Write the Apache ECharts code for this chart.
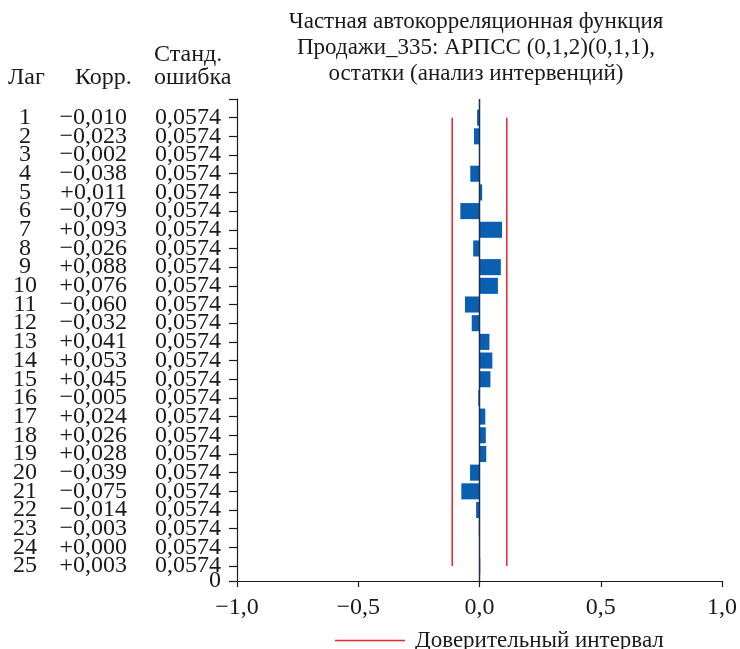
<!DOCTYPE html>
<html>
<head>
<meta charset="utf-8">
<script src="https://cdn.jsdelivr.net/npm/echarts@6/dist/echarts.min.js"></script>
<style>
  html, body { margin: 0; padding: 0; background: #fff; }
  #chart { width: 740px; height: 649px; }
</style>
</head>
<body>
<div id="chart"></div>
<script>
// Partial autocorrelation of residuals, lags 1..25
const lags = [1, 2, 3, 4, 5, 6, 7, 8, 9, 10, 11, 12, 13, 14, 15, 16, 17, 18, 19, 20, 21, 22, 23, 24, 25];
const corr = [-0.010, -0.023, -0.002, -0.038, 0.011, -0.079, 0.093, -0.026, 0.088, 0.076,
              -0.060, -0.032, 0.041, 0.053, 0.045, -0.005, 0.024, 0.026, 0.028, -0.039,
              -0.075, -0.014, -0.003, 0.000, 0.003];
const stdErr = [0.0574, 0.0574, 0.0574, 0.0574, 0.0574, 0.0574, 0.0574, 0.0574, 0.0574, 0.0574,
                0.0574, 0.0574, 0.0574, 0.0574, 0.0574, 0.0574, 0.0574, 0.0574, 0.0574, 0.0574,
                0.0574, 0.0574, 0.0574, 0.0574, 0.0574];
const confLimit = 0.1125;          // ± confidence bound
const xTicks = [-1.0, -0.5, 0.0, 0.5, 1.0];
const yBottom = 25.8;              // axis end below the last lag

const FONT = '"Liberation Serif", "DejaVu Serif", serif';
const MINUS = '\u2212';
const INK = '#1a1a1a';

function fmtComma(v, d) {
  return Math.abs(v).toFixed(d).replace('.', ',');
}
function fmtCorr(v) {
  return (v >= 0 ? '+' : MINUS) + fmtComma(v, 3);
}
function fmtX(v) {
  return (v < 0 ? MINUS : '') + fmtComma(v, 1);
}

const barData = lags.map((l, i) => [corr[i], l]);
const firstLag = lags[0], lastLag = lags[lags.length - 1];

// Plot grid geometry
const G_LEFT = 237, G_RIGHT = 15, G_TOP = 99, G_BOTTOM = 68, CH = 649;
const rowPx = (CH - G_TOP - G_BOTTOM) / yBottom;
// The table columns live in a taller twin grid with the same row scale, padded by
// two empty rows at each end so the tightly packed row labels are never thinned.
const PAD = 2;
const tableMin = -PAD, tableMax = yBottom + PAD;
const tableTop = G_TOP - PAD * rowPx;
const tableHeight = (tableMax - tableMin) * rowPx;

const tickValues = [0].concat(lags, [yBottom]);
const rowValues = [tableMin].concat(lags, [tableMax]);

const rowLabelStyle = { fontFamily: FONT, fontSize: 24, color: INK, showMinLabel: true, showMaxLabel: true };

function tableAxis(offset, align, margin, values, formatter) {
  return {
    gridIndex: 1, type: 'value', inverse: true, min: tableMin, max: tableMax,
    position: 'left', offset: offset,
    axisLine: { show: false, onZero: false }, axisTick: { show: false }, splitLine: { show: false },
    axisLabel: Object.assign({ customValues: values, margin: margin, align: align, formatter: formatter }, rowLabelStyle)
  };
}
const isLag = v => v >= firstLag - 1e-6 && v <= lastLag + 1e-6;
const idx = v => Math.round(v) - 1;

const chart = echarts.init(document.getElementById('chart'), null, { renderer: 'canvas' });

chart.setOption({
  animation: false,
  backgroundColor: '#ffffff',
  title: {
    text: 'Частная автокорреляционная функция\nПродажи_335: АРПСС (0,1,2)(0,1,1),\nостатки (анализ интервенций)',
    left: 471, top: 4, textAlign: 'center',
    textStyle: { fontFamily: FONT, fontSize: 23, fontWeight: 'normal', color: INK, lineHeight: 26 }
  },
  legend: {
    data: [{ name: 'Доверительный интервал', icon: 'rect' }],
    left: 330, top: 624,
    itemWidth: 70, itemHeight: 1.5,
    textStyle: { fontFamily: FONT, fontSize: 23, color: INK, padding: [0, 0, 0, 5] }
  },
  grid: [
    { left: G_LEFT, right: G_RIGHT, top: G_TOP, bottom: G_BOTTOM },
    { left: G_LEFT, right: G_RIGHT, top: tableTop, height: tableHeight }
  ],
  xAxis: [
    {
      gridIndex: 0, type: 'value', min: -1, max: 1, interval: 0.5, position: 'bottom',
      axisLine: { show: true, onZero: false, lineStyle: { color: INK, width: 1.2 } },
      axisTick: { show: true, length: 6, lineStyle: { color: INK, width: 1.2 } },
      splitLine: { show: false },
      axisLabel: {
        customValues: xTicks, margin: 15, showMinLabel: true, showMaxLabel: true,
        fontFamily: FONT, fontSize: 24, color: INK, formatter: fmtX
      }
    },
    { gridIndex: 1, type: 'value', min: -1, max: 1, show: false }
  ],
  yAxis: [
    {
      gridIndex: 0, type: 'value', inverse: true, min: 0, max: yBottom, position: 'left',
      axisLine: { show: true, onZero: false, lineStyle: { color: INK, width: 1.2 } },
      axisTick: { show: true, customValues: tickValues, length: 8, lineStyle: { color: INK, width: 1.2 } },
      splitLine: { show: false },
      axisLabel: { show: false }
    },
    // standard error column (and the axis end "0")
    tableAxis(0, 'right', 16, [tableMin].concat(lags, [yBottom, tableMax]),
      v => isLag(v) ? fmtComma(stdErr[idx(v)], 4) : (Math.abs(v - yBottom) < 1e-6 ? '0' : '')),
    // lag column
    tableAxis(212, 'center', 0, rowValues, v => isLag(v) ? String(lags[idx(v)]) : ''),
    // correlation column
    tableAxis(110, 'right', 0, rowValues, v => isLag(v) ? fmtCorr(corr[idx(v)]) : '')
  ],
  graphic: [
    { type: 'text', left: 8, top: 66, style: { text: 'Лаг', font: '24px ' + FONT, fill: INK } },
    { type: 'text', left: 75, top: 66, style: { text: 'Корр.', font: '24px ' + FONT, fill: INK } },
    { type: 'text', left: 154, top: 43, style: { text: 'Станд.\nошибка', font: '24px ' + FONT, fill: INK, align: 'center', lineHeight: 23 } }
  ],
  series: [
    {
      type: 'custom', name: 'ЧАКФ', xAxisIndex: 0, yAxisIndex: 0,
      data: barData,
      renderItem: function (params, api) {
        const v = api.value(0), lag = api.value(1);
        const p0 = api.coord([0, lag]);
        const p1 = api.coord([v, lag]);
        const h = api.size([0, 1])[1] * 0.86;
        return {
          type: 'rect',
          shape: { x: Math.min(p0[0], p1[0]), y: p0[1] - h / 2, width: Math.abs(p1[0] - p0[0]), height: h },
          style: { fill: '#0b5fb0' }
        };
      },
      z: 3
    },
    {
      type: 'line', name: 'zero', xAxisIndex: 0, yAxisIndex: 0,
      data: [[0, 0], [0, yBottom]], symbol: 'none', silent: true,
      lineStyle: { color: '#1b2f52', width: 1.5 }, z: 4
    },
    {
      type: 'line', name: 'Доверительный интервал', xAxisIndex: 0, yAxisIndex: 0,
      data: [[-confLimit, firstLag], [-confLimit, lastLag]], symbol: 'none',
      lineStyle: { color: '#e8262e', width: 1.5 }, itemStyle: { color: '#e8262e' }, z: 2
    },
    {
      type: 'line', name: 'Доверительный интервал', xAxisIndex: 0, yAxisIndex: 0,
      data: [[confLimit, firstLag], [confLimit, lastLag]], symbol: 'none',
      lineStyle: { color: '#e8262e', width: 1.5 }, itemStyle: { color: '#e8262e' }, z: 2
    }
  ]
});
</script>
</body>
</html>
